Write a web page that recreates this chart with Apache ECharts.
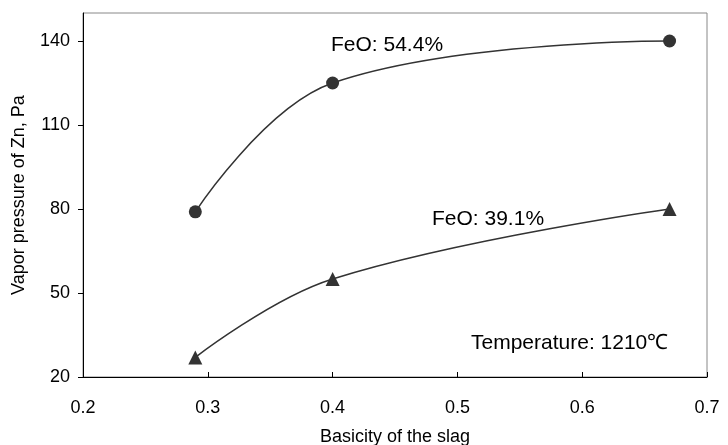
<!DOCTYPE html>
<html>
<head>
<meta charset="utf-8">
<script src="https://cdn.jsdelivr.net/npm/echarts@6/dist/echarts.min.js"></script>
<style>
  html, body { margin: 0; padding: 0; background: #fff; }
  #chart { width: 728px; height: 445px; }
</style>
</head>
<body>
<div id="chart"></div>
<script>
// basicity of the slag
var basicity = [0.29, 0.40, 0.67];
// vapor pressure of Zn, Pa
var feo544 = [79, 125, 140];
var feo391 = [27, 55, 80];
var yTicks = [20, 50, 80, 110, 140];

var labelFont = 'Liberation Sans, Arial, sans-serif';

function pairs(xs, ys) {
  return xs.map(function (x, i) { return [x, ys[i]]; });
}

var chart = echarts.init(document.getElementById('chart'));
chart.setOption({
  animation: false,
  backgroundColor: '#fff',
  grid: {
    left: 83, right: 21, top: 13, bottom: 68,
    outerBoundsMode: 'none',
    containLabel: false,
    show: true,
    borderColor: '#888',
    borderWidth: 1
  },
  xAxis: {
    type: 'value',
    min: 0.2, max: 0.7, interval: 0.1,
    name: 'Basicity of the slag',
    nameLocation: 'middle',
    nameGap: 51,
    nameTextStyle: { color: '#000', fontSize: 18, fontFamily: labelFont },
    axisLine: { show: true, lineStyle: { color: '#000', width: 1 } },
    axisTick: { show: true, inside: true, length: 5, lineStyle: { color: '#000' } },
    axisLabel: { color: '#000', fontSize: 18, fontFamily: labelFont, margin: 22,
      formatter: function (v) { return v.toFixed(1); } },
    splitLine: { show: false }
  },
  yAxis: {
    type: 'value',
    min: 20, max: 150, interval: 30,
    name: 'Vapor pressure of Zn, Pa',
    nameLocation: 'middle',
    nameGap: 55,
    nameTextStyle: { color: '#000', fontSize: 18, fontFamily: labelFont },
    axisLine: { show: true, lineStyle: { color: '#000', width: 1 } },
    axisTick: { show: true, inside: false, length: 5, customValues: yTicks, lineStyle: { color: '#000' } },
    axisLabel: { color: '#000', fontSize: 18, fontFamily: labelFont, margin: 13, customValues: yTicks },
    splitLine: { show: false }
  },
  series: [
    {
      name: 'FeO: 54.4%',
      type: 'line',
      data: pairs(basicity, feo544),
      smooth: 0.4,
      symbol: 'circle',
      symbolSize: 13,
      itemStyle: { color: '#333' },
      lineStyle: { color: '#333', width: 1.5 }
    },
    {
      name: 'FeO: 39.1%',
      type: 'line',
      data: pairs(basicity, feo391),
      smooth: 0.4,
      symbol: 'triangle',
      symbolSize: 14,
      itemStyle: { color: '#333' },
      lineStyle: { color: '#333', width: 1.5 }
    }
  ],
  graphic: [
    { type: 'text', x: 331, y: 45, style: { text: 'FeO: 54.4%', font: '21px ' + labelFont, fill: '#000', verticalAlign: 'middle' } },
    { type: 'text', x: 432, y: 219, style: { text: 'FeO: 39.1%', font: '21px ' + labelFont, fill: '#000', verticalAlign: 'middle' } },
    { type: 'text', x: 471, y: 343, style: { text: 'Temperature: 1210℃', font: '21px ' + labelFont, fill: '#000', verticalAlign: 'middle' } }
  ]
});
</script>
</body>
</html>
